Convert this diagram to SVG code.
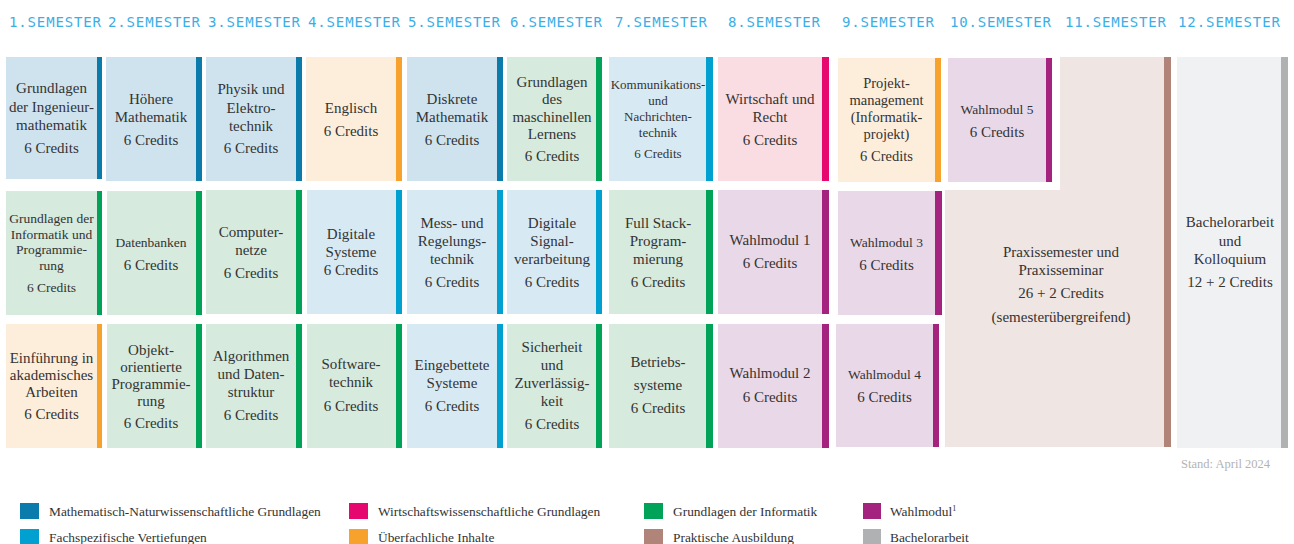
<svg xmlns="http://www.w3.org/2000/svg" width="1294" height="544" viewBox="0 0 1294 544">
<style>
.hd{font-family:"DejaVu Sans Mono",monospace;font-size:14px;fill:#3aaee6}
.t{font-family:"Liberation Serif",serif;font-size:15px;fill:#333;text-anchor:middle}
.s{font-size:13.5px}
.xs{font-size:13px}
.lg{font-family:"Liberation Serif",serif;font-size:13.4px;fill:#333}
.m{fill:#cfe3ef}.mb{fill:#0b7bab}
.f{fill:#d7eaf4}.fb{fill:#00a0d0}
.g{fill:#d6eadd}.gb{fill:#00a358}
.u{fill:#fdeedb}.ub{fill:#f6a22d}
.w{fill:#fadde3}.wb{fill:#e6086e}
.p{fill:#e9d8e8}.pb{fill:#a3237f}
.r{fill:#efe5e2}.rb{fill:#b08478}
.b{fill:#f0f1f3}.bb{fill:#b0b1b3}
</style>
<rect width="1294" height="544" fill="#fff"/>
<g id="headers">
<text class="hd" x="9" y="27" textLength="92" lengthAdjust="spacing">1.SEMESTER</text>
<text class="hd" x="108" y="27" textLength="92" lengthAdjust="spacing">2.SEMESTER</text>
<text class="hd" x="208" y="27" textLength="92" lengthAdjust="spacing">3.SEMESTER</text>
<text class="hd" x="308" y="27" textLength="92" lengthAdjust="spacing">4.SEMESTER</text>
<text class="hd" x="408" y="27" textLength="92" lengthAdjust="spacing">5.SEMESTER</text>
<text class="hd" x="510" y="27" textLength="92" lengthAdjust="spacing">6.SEMESTER</text>
<text class="hd" x="615" y="27" textLength="92" lengthAdjust="spacing">7.SEMESTER</text>
<text class="hd" x="728" y="27" textLength="92" lengthAdjust="spacing">8.SEMESTER</text>
<text class="hd" x="842" y="27" textLength="92" lengthAdjust="spacing">9.SEMESTER</text>
<text class="hd" x="950" y="27" textLength="101" lengthAdjust="spacing">10.SEMESTER</text>
<text class="hd" x="1065" y="27" textLength="101" lengthAdjust="spacing">11.SEMESTER</text>
<text class="hd" x="1178" y="27" textLength="102" lengthAdjust="spacing">12.SEMESTER</text>
</g>

<g id="praxis">
<polygon class="r" points="1060,57 1164,57 1164,447 945,447 945,190 1060,190"/>
<rect class="rb" x="1164" y="57" width="7" height="390"/>
<text class="t"><tspan x="1061" y="257">Praxissemester und</tspan><tspan x="1061" y="275">Praxisseminar</tspan><tspan x="1061" y="298">26 + 2 Credits</tspan><tspan x="1061" y="322">(semesterübergreifend)</tspan></text>
</g>
<g id="bachelor">
<rect class="b" x="1177" y="57" width="104" height="391"/>
<rect class="bb" x="1281" y="57" width="7" height="391"/>
<text class="t"><tspan x="1230" y="227">Bachelorarbeit</tspan><tspan x="1230" y="246">und</tspan><tspan x="1230" y="264">Kolloquium</tspan><tspan x="1230" y="287">12 + 2 Credits</tspan></text>
</g>

<!-- Row 1 -->
<g id="r1c1"><rect class="m" x="6" y="57" width="91" height="122"/><rect class="mb" x="97" y="57" width="5" height="122"/>
<text class="t"><tspan x="51.5" y="93">Grundlagen</tspan><tspan x="51.5" y="112">der Ingenieur-</tspan><tspan x="51.5" y="130">mathematik</tspan><tspan x="51.5" y="153">6 Credits</tspan></text></g>
<g id="r1c2"><rect class="m" x="106" y="57" width="90" height="124"/><rect class="mb" x="196" y="57" width="6" height="124"/>
<text class="t"><tspan x="151" y="104">Höhere</tspan><tspan x="151" y="122">Mathematik</tspan><tspan x="151" y="145">6 Credits</tspan></text></g>
<g id="r1c3"><rect class="m" x="206" y="57" width="90" height="124"/><rect class="mb" x="296" y="57" width="6" height="124"/>
<text class="t"><tspan x="251" y="94">Physik und</tspan><tspan x="251" y="113">Elektro-</tspan><tspan x="251" y="131">technik</tspan><tspan x="251" y="153">6 Credits</tspan></text></g>
<g id="r1c4"><rect class="u" x="306" y="57" width="90" height="124"/><rect class="ub" x="396" y="57" width="6" height="124"/>
<text class="t"><tspan x="351" y="113">Englisch</tspan><tspan x="351" y="136">6 Credits</tspan></text></g>
<g id="r1c5"><rect class="m" x="407" y="57" width="90" height="124"/><rect class="mb" x="497" y="57" width="6" height="124"/>
<text class="t"><tspan x="452" y="104">Diskrete</tspan><tspan x="452" y="122">Mathematik</tspan><tspan x="452" y="145">6 Credits</tspan></text></g>
<g id="r1c6"><rect class="g" x="507" y="57" width="89" height="124"/><rect class="gb" x="596" y="57" width="6" height="124"/>
<text class="t"><tspan x="552" y="87">Grundlagen</tspan><tspan x="552" y="104">des</tspan><tspan x="552" y="122">maschinellen</tspan><tspan x="552" y="139">Lernens</tspan><tspan x="552" y="161">6 Credits</tspan></text></g>
<g id="r1c7"><rect class="f" x="609" y="57" width="97" height="124"/><rect class="fb" x="706" y="57" width="7" height="124"/>
<text class="t xs"><tspan x="658" y="89">Kommunikations-</tspan><tspan x="658" y="105">und</tspan><tspan x="658" y="121">Nachrichten-</tspan><tspan x="658" y="137">technik</tspan><tspan x="658" y="158">6 Credits</tspan></text></g>
<g id="r1c8"><rect class="w" x="718" y="57" width="104" height="124"/><rect class="wb" x="822" y="57" width="7" height="124"/>
<text class="t"><tspan x="770" y="104">Wirtschaft und</tspan><tspan x="770" y="122">Recht</tspan><tspan x="770" y="145">6 Credits</tspan></text></g>
<g id="r1c9"><rect class="u" x="838" y="58" width="97" height="124"/><rect class="ub" x="935" y="58" width="6" height="124"/>
<text class="t" style="font-size:14.5px"><tspan x="886.5" y="88">Projekt-</tspan><tspan x="886.5" y="105">management</tspan><tspan x="886.5" y="122">(Informatik-</tspan><tspan x="886.5" y="139">projekt)</tspan><tspan x="886.5" y="161">6 Credits</tspan></text></g>
<g id="r1c10"><rect class="p" x="948" y="58" width="98" height="124"/><rect class="pb" x="1046" y="58" width="6" height="124"/>
<text class="t"><tspan class="s" x="997" y="114">Wahlmodul 5</tspan><tspan x="997" y="137">6 Credits</tspan></text></g>

<!-- Row 2 -->
<g id="r2c1"><rect class="g" x="6" y="191" width="91" height="124"/><rect class="gb" x="97" y="191" width="5" height="124"/>
<text class="t s"><tspan x="51.5" y="223">Grundlagen der</tspan><tspan x="51.5" y="239">Informatik und</tspan><tspan x="51.5" y="254">Programmie-</tspan><tspan x="51.5" y="270">rung</tspan><tspan x="51.5" y="292">6 Credits</tspan></text></g>
<g id="r2c2"><rect class="g" x="107" y="191" width="89" height="124"/><rect class="gb" x="196" y="191" width="6" height="124"/>
<text class="t"><tspan class="s" x="151" y="247">Datenbanken</tspan><tspan x="151" y="270">6 Credits</tspan></text></g>
<g id="r2c3"><rect class="g" x="206" y="190" width="90" height="124"/><rect class="gb" x="296" y="190" width="6" height="124"/>
<text class="t"><tspan x="251" y="237">Computer-</tspan><tspan x="251" y="255">netze</tspan><tspan x="251" y="278">6 Credits</tspan></text></g>
<g id="r2c4"><rect class="f" x="307" y="190" width="89" height="124"/><rect class="fb" x="396" y="190" width="6" height="124"/>
<text class="t"><tspan x="351" y="239">Digitale</tspan><tspan x="351" y="257">Systeme</tspan><tspan x="351" y="275">6 Credits</tspan></text></g>
<g id="r2c5"><rect class="f" x="407" y="190" width="90" height="124"/><rect class="fb" x="497" y="190" width="6" height="124"/>
<text class="t"><tspan x="452" y="228">Mess- und</tspan><tspan x="452" y="246">Regelungs-</tspan><tspan x="452" y="264">technik</tspan><tspan x="452" y="287">6 Credits</tspan></text></g>
<g id="r2c6"><rect class="f" x="507" y="190" width="89" height="124"/><rect class="fb" x="596" y="190" width="6" height="124"/>
<text class="t"><tspan x="552" y="228">Digitale</tspan><tspan x="552" y="246">Signal-</tspan><tspan x="552" y="264">verarbeitung</tspan><tspan x="552" y="287">6 Credits</tspan></text></g>
<g id="r2c7"><rect class="g" x="609" y="190" width="97" height="124"/><rect class="gb" x="706" y="190" width="7" height="124"/>
<text class="t"><tspan x="658" y="228">Full Stack-</tspan><tspan x="658" y="246">Program-</tspan><tspan x="658" y="264">mierung</tspan><tspan x="658" y="287">6 Credits</tspan></text></g>
<g id="r2c8"><rect class="p" x="718" y="190" width="104" height="124"/><rect class="pb" x="822" y="190" width="7" height="124"/>
<text class="t"><tspan x="770" y="245">Wahlmodul 1</tspan><tspan x="770" y="268">6 Credits</tspan></text></g>
<g id="r2c9"><rect class="p" x="838" y="191" width="97" height="124"/><rect class="pb" x="935" y="191" width="7" height="124"/>
<text class="t"><tspan class="s" x="886.5" y="247">Wahlmodul 3</tspan><tspan x="886.5" y="270">6 Credits</tspan></text></g>

<!-- Row 3 -->
<g id="r3c1"><rect class="u" x="6" y="324" width="91" height="124"/><rect class="ub" x="97" y="324" width="5" height="124"/>
<text class="t"><tspan x="51.5" y="363">Einführung in</tspan><tspan x="51.5" y="380">akademisches</tspan><tspan x="51.5" y="397">Arbeiten</tspan><tspan x="51.5" y="419">6 Credits</tspan></text></g>
<g id="r3c2"><rect class="g" x="107" y="324" width="89" height="124"/><rect class="gb" x="196" y="324" width="6" height="124"/>
<text class="t"><tspan x="151" y="355">Objekt-</tspan><tspan x="151" y="372">orientierte</tspan><tspan x="151" y="389">Programmie-</tspan><tspan x="151" y="406">rung</tspan><tspan x="151" y="428">6 Credits</tspan></text></g>
<g id="r3c3"><rect class="g" x="206" y="324" width="90" height="124"/><rect class="gb" x="296" y="324" width="6" height="124"/>
<text class="t"><tspan x="251" y="361">Algorithmen</tspan><tspan x="251" y="379">und Daten-</tspan><tspan x="251" y="397">struktur</tspan><tspan x="251" y="420">6 Credits</tspan></text></g>
<g id="r3c4"><rect class="g" x="307" y="324" width="89" height="124"/><rect class="gb" x="396" y="324" width="6" height="124"/>
<text class="t"><tspan x="351" y="369">Software-</tspan><tspan x="351" y="387">technik</tspan><tspan x="351" y="411">6 Credits</tspan></text></g>
<g id="r3c5"><rect class="f" x="407" y="324" width="90" height="124"/><rect class="fb" x="497" y="324" width="6" height="124"/>
<text class="t"><tspan x="452" y="370">Eingebettete</tspan><tspan x="452" y="388">Systeme</tspan><tspan x="452" y="411">6 Credits</tspan></text></g>
<g id="r3c6"><rect class="g" x="507" y="324" width="89" height="124"/><rect class="gb" x="596" y="324" width="6" height="124"/>
<text class="t"><tspan x="552" y="352">Sicherheit</tspan><tspan x="552" y="370">und</tspan><tspan x="552" y="388">Zuverlässig-</tspan><tspan x="552" y="406">keit</tspan><tspan x="552" y="429">6 Credits</tspan></text></g>
<g id="r3c7"><rect class="g" x="609" y="324" width="97" height="124"/><rect class="gb" x="706" y="324" width="7" height="124"/>
<text class="t"><tspan x="658" y="367">Betriebs-</tspan><tspan x="658" y="390">systeme</tspan><tspan x="658" y="413">6 Credits</tspan></text></g>
<g id="r3c8"><rect class="p" x="718" y="324" width="104" height="124"/><rect class="pb" x="822" y="324" width="7" height="124"/>
<text class="t"><tspan x="770" y="378">Wahlmodul 2</tspan><tspan x="770" y="402">6 Credits</tspan></text></g>
<g id="r3c9"><rect class="p" x="836" y="324" width="97" height="123"/><rect class="pb" x="933" y="324" width="6" height="123"/>
<text class="t"><tspan class="s" x="884.5" y="379">Wahlmodul 4</tspan><tspan x="884.5" y="402">6 Credits</tspan></text></g>

<text x="1270" y="468" font-family="Liberation Serif, serif" font-size="12.5" fill="#b3b3b3" text-anchor="end">Stand: April 2024</text>

<g id="legend">
<rect class="mb" x="20" y="503" width="19" height="16"/><text class="lg" x="49" y="516">Mathematisch-Naturwissenschaftliche Grundlagen</text>
<rect class="fb" x="20" y="529" width="19" height="16"/><text class="lg" x="49" y="542">Fachspezifische Vertiefungen</text>
<rect class="wb" x="349" y="503" width="19" height="16"/><text class="lg" x="378" y="516">Wirtschaftswissenschaftliche Grundlagen</text>
<rect class="ub" x="349" y="529" width="19" height="16"/><text class="lg" x="378" y="542">Überfachliche Inhalte</text>
<rect class="gb" x="644" y="503" width="19" height="16"/><text class="lg" x="673" y="516">Grundlagen der Informatik</text>
<rect class="rb" x="644" y="529" width="19" height="16"/><text class="lg" x="673" y="542">Praktische Ausbildung</text>
<rect class="pb" x="863" y="503" width="18" height="16"/><text class="lg" x="890" y="516">Wahlmodul<tspan font-size="8" dy="-5">1</tspan></text>
<rect class="bb" x="863" y="529" width="18" height="16"/><text class="lg" x="890" y="542">Bachelorarbeit</text>
</g>
</svg>
